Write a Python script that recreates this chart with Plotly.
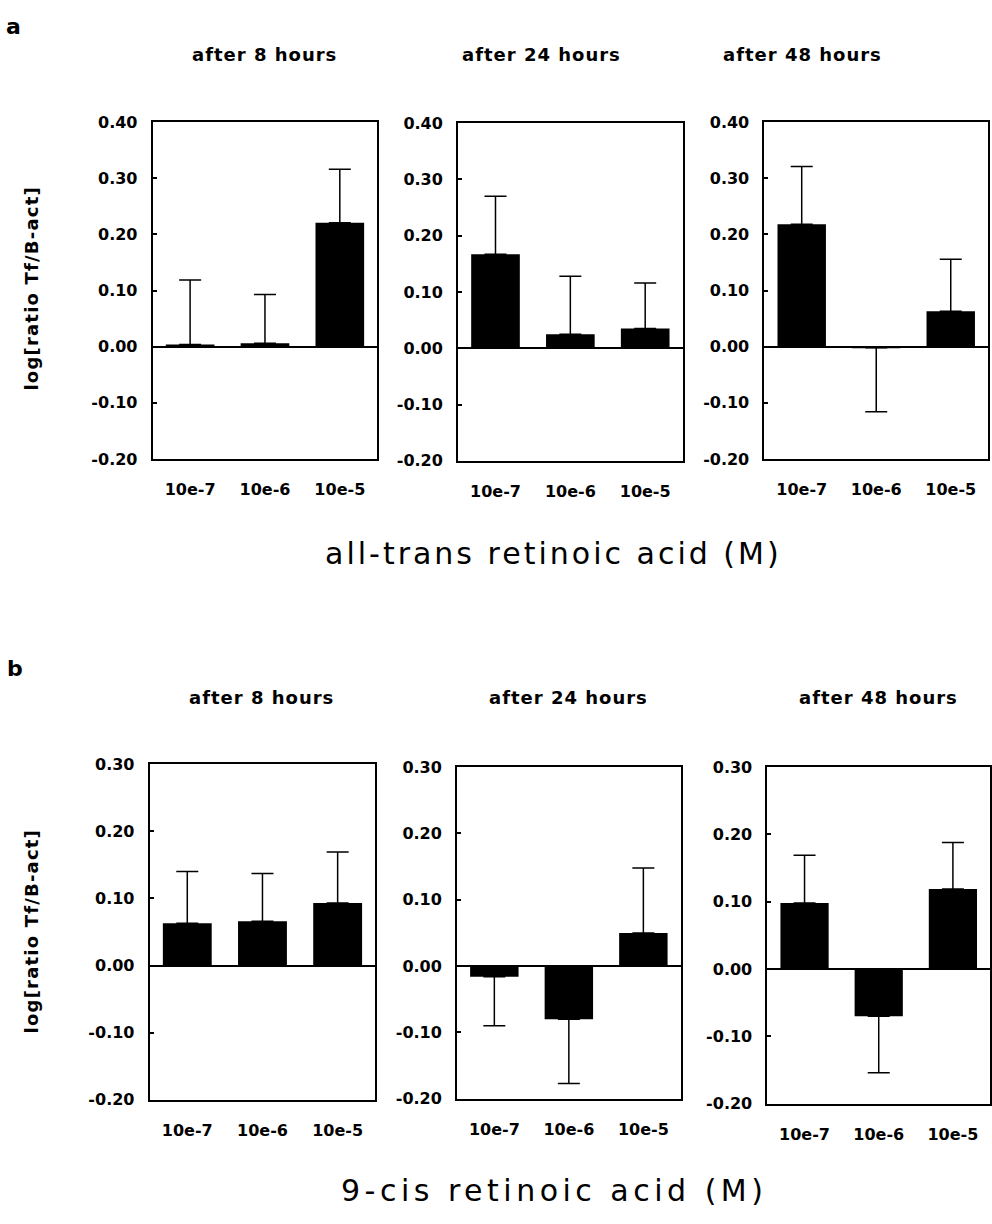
import plotly.graph_objects as go

W, H = 992, 1224

concs = ["10e-7", "10e-6", "10e-5"]
times = ["after 8 hours", "after 24 hours", "after 48 hours"]

# panel a: all-trans retinoic acid (mean, SEM)
a_8h = [0.004, 0.006, 0.221]
a_8h_err = [0.115, 0.087, 0.095]
a_24h = [0.167, 0.025, 0.035]
a_24h_err = [0.103, 0.103, 0.081]
a_48h = [0.218, -0.002, 0.063]
a_48h_err = [0.103, 0.114, 0.093]

# panel b: 9-cis retinoic acid
b_8h = [0.063, 0.066, 0.093]
b_8h_err = [0.077, 0.071, 0.076]
b_24h = [-0.016, -0.080, 0.050]
b_24h_err = [0.074, 0.097, 0.098]
b_48h = [0.098, -0.070, 0.119]
b_48h_err = [0.071, 0.084, 0.069]

a_ytick_vals = [-0.2, -0.1, 0.0, 0.1, 0.2, 0.3, 0.4]
a_ytick_text = ["-0.20", "-0.10", "0.00", "0.10", "0.20", "0.30", "0.40"]
b_ytick_vals = [-0.2, -0.1, 0.0, 0.1, 0.2, 0.3]
b_ytick_text = ["-0.20", "-0.10", "0.00", "0.10", "0.20", "0.30"]

ylabel = "log[ratio Tf/B-act]"
a_title = "all-trans retinoic acid (M)"
b_title = "9-cis retinoic acid (M)"

# pixel boxes of each plot: (x0, x1, ytop, ybottom)
boxes = [
    (153, 378, 115, 457), (459, 684, 116, 459), (766, 990, 115, 457),
    (150, 376, 767, 1108), (458, 682, 770, 1107), (769, 992, 770, 1112),
]
series = [(a_8h, a_8h_err), (a_24h, a_24h_err), (a_48h, a_48h_err),
          (b_8h, b_8h_err), (b_24h, b_24h_err), (b_48h, b_48h_err)]

FONT = "DejaVu Sans"
fig = go.Figure()
layout = dict(
    width=W, height=H, margin=dict(l=0, r=0, t=0, b=0),
    paper_bgcolor="white", plot_bgcolor="white", showlegend=False,
    bargap=0.35,
)

for i, ((vals, errs), box) in enumerate(zip(series, boxes)):
    n = i + 1
    xa = "x" if n == 1 else f"x{n}"
    ya = "y" if n == 1 else f"y{n}"
    up = [e if v >= 0 else 0 for v, e in zip(vals, errs)]
    dn = [e if v < 0 else 0 for v, e in zip(vals, errs)]
    fig.add_trace(go.Bar(
        x=concs, y=vals, xaxis=xa, yaxis=ya,
        marker=dict(color="black", line=dict(width=0)),
        error_y=dict(type="data", symmetric=False, array=up, arrayminus=dn,
                     color="black", thickness=1.5, width=11),
    ))
    x0, x1, yt, yb = box
    panel_a = i < 3
    layout["xaxis" if n == 1 else f"xaxis{n}"] = dict(
        domain=[x0 / W, min(x1 / W, 1.0)], anchor=ya,
        showline=True, mirror=True, linecolor="black", linewidth=2,
        ticks="", showgrid=False, ticklabelstandoff=15,
        tickfont=dict(family=FONT, size=16, color="black", weight="bold"),
        fixedrange=True,
    )
    layout["yaxis" if n == 1 else f"yaxis{n}"] = dict(
        domain=[1 - yb / H, 1 - yt / H], anchor=xa,
        range=[-0.2, 0.4] if panel_a else [-0.2, 0.3],
        tickvals=a_ytick_vals if panel_a else b_ytick_vals,
        ticktext=a_ytick_text if panel_a else b_ytick_text,
        showline=True, mirror=True, linecolor="black", linewidth=2,
        ticks="inside", ticklen=4, tickwidth=1.5, tickcolor="black",
        showgrid=False, zeroline=True, zerolinecolor="black", zerolinewidth=2,
        ticklabelstandoff=10,
        tickfont=dict(family=FONT, size=16, color="black", weight="bold"),
        fixedrange=True,
    )

ann = []
def add_text(text, x, y, size, bold=True, angle=0, spacing=0):
    t = text
    if spacing:
        t = f'<span style="letter-spacing:{spacing}px">{text}</span>'
    ann.append(dict(text=t, x=x / W, y=1 - y / H, xref="paper", yref="paper",
                    showarrow=False, xanchor="center", yanchor="middle",
                    textangle=angle,
                    font=dict(family=FONT, size=size, color="black",
                              weight="bold" if bold else "normal")))

add_text("a", 14, 18, 22)
add_text("b", 15, 670, 22)
for t, x in zip(times, [265, 543, 804]):
    add_text(t, x, 46, 18, spacing=1)
for t, x in zip(times, [262, 570, 880]):
    add_text(t, x, 699, 18, spacing=1)
add_text(a_title, 555, 553, 30, bold=False, spacing=3)
add_text(b_title, 555, 1200, 30, bold=False, spacing=4.5)
add_text(ylabel, 32, 284, 18, angle=-90, spacing=1.2)
add_text(ylabel, 32, 937, 18, angle=-90, spacing=1.2)

layout["annotations"] = ann
fig.update_layout(**layout)
fig.write_html("out.html")
